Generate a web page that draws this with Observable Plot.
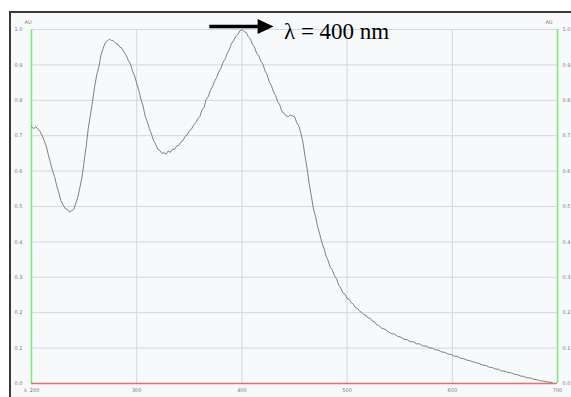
<!DOCTYPE html>
<html>
<head>
<meta charset="utf-8">
<script src="https://cdn.jsdelivr.net/npm/d3@7"></script>
<script src="https://cdn.jsdelivr.net/npm/@observablehq/plot@0.6"></script>
<style>
  html, body { margin: 0; padding: 0; background: #ffffff; }
  #wrap { position: relative; width: 571px; height: 397px; overflow: hidden; }
  #frame { position: absolute; left: 9px; top: 11px; width: 600px; height: 400px;
           background: #f8f9fa; border-top: 2px solid #3a3a3a; border-left: 2px solid #3a3a3a; }
  #chart { position: absolute; left: 0; top: 0; }
  #chart svg { background: transparent !important; }
</style>
</head>
<body>
<div id="wrap"><div id="frame"></div><div id="chart"></div></div>
<script>
const wavelengths = [200,202,204,206,208,210,212,214,216,218,220,222,224,226,228,230,232,234,236,238,240,242,244,246,248,250,252,254,256,258,260,262,264,266,268,270,272,274,276,278,280,282,284,286,288,290,292,294,296,298,300,302,304,306,308,310,312,314,316,318,320,322,324,326,328,330,332,334,336,338,340,342,344,346,348,350,352,354,356,358,360,362,364,366,368,370,372,374,376,378,380,382,384,386,388,390,392,394,396,398,400,402,404,406,408,410,412,414,416,418,420,422,424,426,428,430,432,434,436,438,440,442,444,446,448,450,452,454,456,458,460,462,464,466,468,470,472,474,476,478,480,482,484,486,488,490,492,494,496,498,500,502,504,506,508,510,512,514,516,518,520,522,524,526,528,530,533,536,539,542,545,548,551,554,557,560,563,566,569,572,575,578,581,584,587,590,593,596,599,602,605,608,611,614,617,620,623,626,629,632,635,638,641,644,647,650,653,656,659,662,665,668,671,674,677,680,683,686,689,692,695,698,700];
const absorbance = [0.726,0.720,0.725,0.719,0.712,0.701,0.686,0.671,0.646,0.624,0.600,0.584,0.558,0.539,0.516,0.505,0.494,0.492,0.484,0.488,0.491,0.508,0.526,0.554,0.583,0.627,0.670,0.722,0.758,0.797,0.838,0.872,0.893,0.927,0.946,0.962,0.967,0.973,0.969,0.968,0.961,0.959,0.950,0.947,0.936,0.927,0.913,0.903,0.883,0.869,0.848,0.828,0.803,0.784,0.756,0.740,0.720,0.705,0.686,0.676,0.662,0.658,0.650,0.652,0.648,0.657,0.653,0.662,0.661,0.671,0.673,0.682,0.686,0.698,0.702,0.714,0.718,0.730,0.736,0.747,0.754,0.772,0.780,0.802,0.810,0.828,0.838,0.854,0.864,0.880,0.890,0.907,0.916,0.932,0.943,0.960,0.968,0.980,0.985,0.996,1.000,0.994,0.992,0.980,0.974,0.958,0.950,0.933,0.926,0.910,0.902,0.883,0.872,0.852,0.842,0.824,0.814,0.796,0.787,0.768,0.764,0.756,0.754,0.759,0.756,0.754,0.738,0.728,0.708,0.682,0.643,0.607,0.563,0.530,0.493,0.472,0.443,0.422,0.398,0.382,0.360,0.347,0.328,0.320,0.304,0.296,0.278,0.270,0.256,0.252,0.240,0.238,0.228,0.224,0.214,0.212,0.204,0.201,0.194,0.193,0.185,0.184,0.176,0.175,0.166,0.164,0.156,0.153,0.147,0.141,0.140,0.133,0.131,0.125,0.124,0.118,0.118,0.112,0.112,0.106,0.106,0.101,0.100,0.095,0.094,0.089,0.088,0.083,0.082,0.077,0.077,0.071,0.070,0.066,0.064,0.061,0.058,0.056,0.052,0.051,0.046,0.045,0.041,0.040,0.035,0.035,0.031,0.030,0.026,0.025,0.021,0.020,0.016,0.016,0.012,0.011,0.008,0.007,0.005,0.004,0.003];

const xTicks = [200,300,400,500,600,700];
const xGrid = [300,400,500,600];
const yTicks = [0,0.1,0.2,0.3,0.4,0.5,0.6,0.7,0.8,0.9,1.0];
const yUnit = "AU";
const annotationText = "λ = 400 nm";
const arrowFrom = 369, arrowTo = 430, arrowLevel = 1.0085;
const labelAt = 440, labelLevel = 0.995;

const data = wavelengths.map((w, i) => ({w, a: absorbance[i]}));

// right-pointing filled triangle symbol
const triRight = {
  draw(ctx, size) {
    const L = Math.sqrt(size);
    ctx.moveTo(L / 2, 0);
    ctx.lineTo(-L / 2, -L * 0.47);
    ctx.lineTo(-L / 2, L * 0.47);
    ctx.closePath();
  }
};

const chart = Plot.plot({
  width: 571,
  height: 397,
  marginLeft: 31,
  marginRight: 14,
  marginTop: 29,
  marginBottom: 14,
  style: {background: "transparent", fontFamily: "DejaVu Sans, sans-serif"},
  x: {domain: [200, 700]},
  y: {domain: [0, 1]},
  marks: [
    Plot.gridX(xGrid, {stroke: "#ccd9e6", strokeOpacity: 1, strokeWidth: 1}),
    Plot.gridY(yTicks.filter(d => d > 0), {stroke: "#ccd9e6", strokeOpacity: 1, strokeWidth: 1}),
    Plot.ruleX([200, 700], {stroke: "#74ec74", strokeWidth: 1.5}),
    Plot.ruleY([0], {stroke: "#ec6b6b", strokeWidth: 1.5}),
    Plot.axisY(yTicks, {anchor: "left", tickSize: 0, tickPadding: 9, tickFormat: d3.format(".1f"), fontSize: 5, fill: "#777", label: null}),
    Plot.axisY(yTicks, {anchor: "right", tickSize: 0, tickPadding: 5, tickFormat: d3.format(".1f"), fontSize: 5, fill: "#777", label: null}),
    Plot.axisX(xTicks, {anchor: "bottom", tickSize: 0, tickPadding: 5, tickFormat: d => d === 200 ? "λ  " + d : String(d), fontSize: 5, fill: "#777", label: null}),
    Plot.text([yUnit], {frameAnchor: "top-left", dx: -7, dy: -9, fontSize: 5, fill: "#777"}),
    Plot.text([yUnit], {frameAnchor: "top-right", dx: -5, dy: -9, fontSize: 5, fill: "#777"}),
    Plot.line(data, {x: "w", y: "a", stroke: "#6a6a6a", strokeWidth: 0.85}),
    Plot.link([{x1: arrowFrom, x2: arrowTo - 14, y: arrowLevel}], {x1: "x1", x2: "x2", y1: "y", y2: "y", stroke: "#000", strokeWidth: 3.5}),
    Plot.dot([{x: arrowTo - 7.5, y: arrowLevel}], {x: "x", y: "y", symbol: triRight, r: 9, fill: "#000", stroke: null}),
    Plot.text([annotationText], {x: labelAt, y: labelLevel, textAnchor: "start", fontSize: 23, fontFamily: "Liberation Serif, Times New Roman, serif", fill: "#000"})
  ]
});
document.getElementById("chart").appendChild(chart);
</script>
</body>
</html>
